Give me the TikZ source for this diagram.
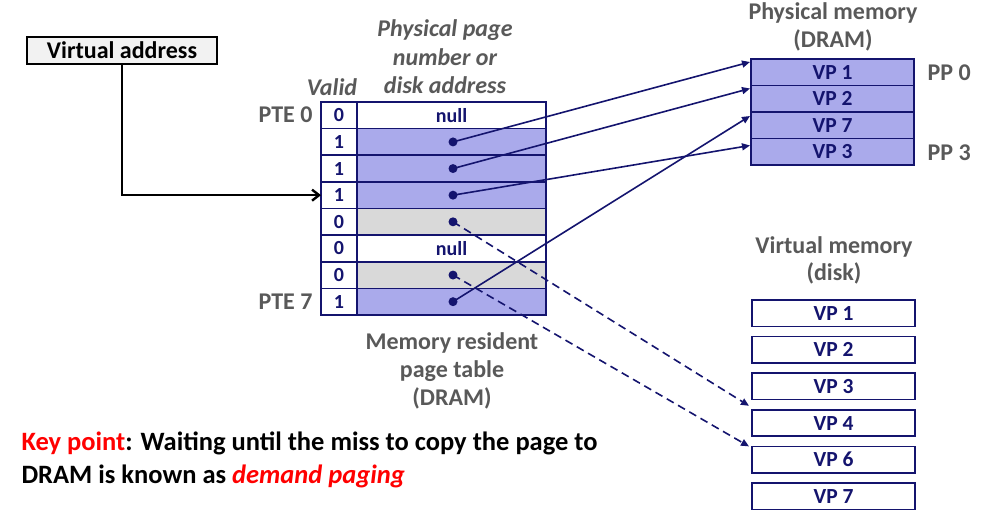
\documentclass[tikz,border=0pt]{standalone}
\usepackage{fontspec}
\setmainfont{Carlito}
\usetikzlibrary{arrows.meta,calc}
\definecolor{navy}{RGB}{20,20,110}
\definecolor{bluefill}{RGB}{170,170,235}
\definecolor{grayfill}{RGB}{217,217,217}
\definecolor{labelgray}{RGB}{89,89,89}
\definecolor{vafill}{RGB}{242,242,242}
\definecolor{keyred}{RGB}{255,0,0}
\begin{document}
\begin{tikzpicture}[x=1pt,y=-1pt,
  cell/.style={draw=navy, line width=1.6pt, inner sep=0pt, outer sep=0pt, anchor=north west,
    minimum height=26.6pt, font=\fontsize{20}{20}\selectfont\bfseries, text=navy},
  vcell/.style={cell, minimum width=36pt, fill=white},
  dcell/.style={cell, minimum width=189pt},
  memcell/.style={cell, minimum width=163pt, minimum height=26.5pt, font=\fontsize{21.5}{21.5}\selectfont\bfseries},
  dot/.style={circle, fill=navy, inner sep=0pt, minimum size=9pt},
  ptr/.style={draw=navy, line width=1.6pt, -{Triangle[length=8pt,width=7pt]}},
  dptr/.style={ptr, dash pattern=on 8pt off 5pt},
  glabel/.style={text=labelgray, font=\fontsize{24}{24}\selectfont\bfseries},
  ilabel/.style={text=labelgray, font=\fontsize{24}{24}\selectfont\bfseries\itshape}
]
\useasboundingbox (0,0) rectangle (989,529);

% Virtual address
\node[draw=black, line width=1.2pt, fill=vafill, minimum width=190pt, minimum height=27pt, inner sep=0pt,
  font=\fontsize{24}{24}\selectfont\bfseries] (va) at (122,50.5) {Virtual address};

% page table
\foreach \i/\v/\f in {0/0/white,1/1/bluefill,2/1/bluefill,3/1/bluefill,4/0/grayfill,5/0/white,6/0/grayfill,7/1/bluefill}{
  \node[dcell, fill=\f] (d\i) at (357,{102+26.625*\i}) {};
  \node[vcell] (v\i) at (321,{102+26.625*\i}) {\v};
}
\node[font=\fontsize{20}{20}\selectfont\bfseries, text=navy] at (d0.center) {null};
\node[font=\fontsize{20}{20}\selectfont\bfseries, text=navy] at (d5.center) {null};
\foreach \i in {1,2,3,4,6,7}{ \node[dot] (p\i) at ($(d\i.center)+(1.5,0)$) {}; }

\node[glabel, anchor=east] (pte0) at (316,115) {PTE 0};
\node[glabel, anchor=east] (pte7) at (316,302) {PTE 7};
\node[ilabel] (valid) at (332,87) {Valid};
\node[ilabel, align=center, font=\fontsize{24}{28.5}\selectfont\bfseries\itshape] (ppn) at (445,57) {Physical page\\number or\\disk address};
\node[glabel, align=center, font=\fontsize{24}{28}\selectfont\bfseries] (mrpt) at (452,371) {Memory resident\\page table\\(DRAM)};

% Physical memory
\foreach \i/\t in {0/VP 1,1/VP 2,2/VP 7,3/VP 3}{
  \node[memcell, fill=bluefill] (pm\i) at (751,{59+26.5*\i}) {\t};
}
\node[glabel, align=center, font=\fontsize{24}{28}\selectfont\bfseries] (pmt) at (833,27) {Physical memory\\(DRAM)};
\node[glabel, anchor=west] (pp0) at (924,73) {PP 0};
\node[glabel, anchor=west] (pp3) at (924,153) {PP 3};

% Virtual memory
\foreach \i/\t in {0/VP 1,1/VP 2,2/VP 3,3/VP 4,4/VP 6,5/VP 7}{
  \node[memcell, fill=white] (vm\i) at (752,{300+36.6*\i}) {\t};
}
\node[glabel, align=center, font=\fontsize{24}{27}\selectfont\bfseries] (vmt) at (834,260) {Virtual memory\\(disk)};

% connectors
\draw[black, line width=2.4pt, -{Straight Barb[length=7pt,width=11pt]}] (va.south) |- (v3.west);
\draw[ptr] (p1.center) -- ($(pm0.north west)+(-1,3)$);
\draw[ptr] (p2.center) -- ($(pm1.north west)+(-1,3)$);
\draw[ptr] (p3.center) -- ($(pm3.north west)+(-1,7)$);
\draw[ptr] (p7.center) -- ($(pm2.north west)+(-1,4)$);
\draw[dptr] (p4.center) -- ($(vm3.north west)+(-3,-4)$);
\draw[dptr] (p6.center) -- ($(vm4.north west)+(-3,0)$);

% key point
\node[anchor=west, font=\fontsize{26.5}{26.5}\selectfont\bfseries, align=left] (key) at (18,443)
  {\textcolor{keyred}{Key point}: Waiting until the miss to copy the page to};
\node[anchor=west, font=\fontsize{26.5}{26.5}\selectfont\bfseries] (key2) at (18,476)
  {DRAM is known as \textcolor{keyred}{\itshape demand paging}};
\end{tikzpicture}
\end{document}
